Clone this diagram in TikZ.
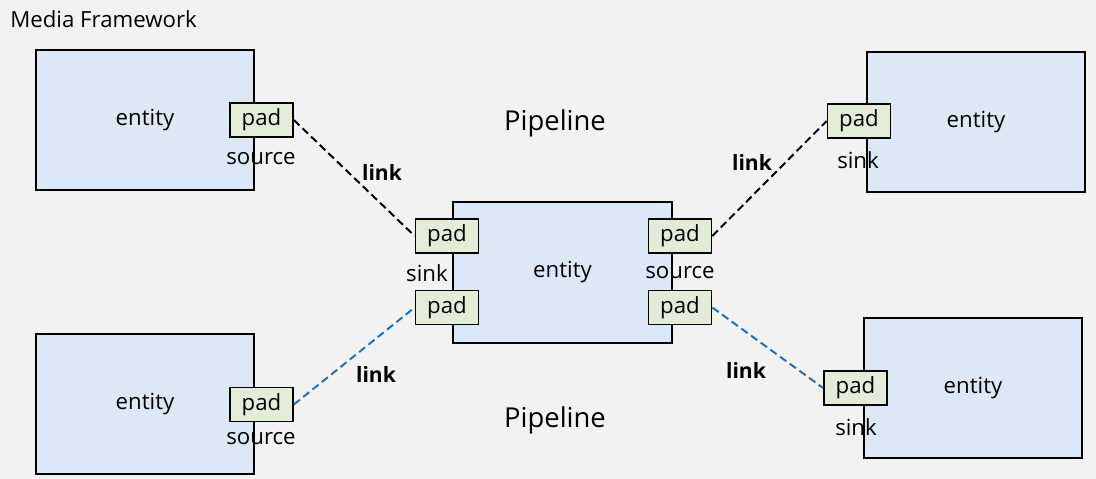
\documentclass[tikz,border=0pt]{standalone}
\usepackage{fontspec}
\setmainfont{Open Sans}
\usetikzlibrary{positioning}

\definecolor{bggray}{RGB}{242,242,242}
\definecolor{entityblue}{RGB}{220,232,246}
\definecolor{padgreen}{RGB}{227,236,214}
\definecolor{linkblue}{RGB}{34,112,176}

\tikzset{
  entitybox/.style={draw=black, line width=1.3pt, fill=entityblue,
    minimum width=5.45cm, minimum height=3.5cm, inner sep=0pt},
  padbox/.style={draw=black, line width=1.2pt, fill=padgreen,
    minimum width=1.575cm, minimum height=0.85cm, inner sep=0pt},
  linkline/.style={line width=1.4pt, dash pattern=on 5.5pt off 3pt},
  linklabel/.style={font=\fontsize{15}{17}\selectfont\bfseries},
}

\begin{document}
\begin{tikzpicture}[x=0.025cm, y=-0.025cm, font=\fontsize{15.8}{18}\selectfont]
  % Background
  \fill[bggray] (0,0) rectangle (1096,479);
  \useasboundingbox (0,0) rectangle (1096,479);
  \node[anchor=base west, inner sep=0pt] (title) at (10,28) {Media Framework};

  % Entities
  \node[entitybox] (srcA) at (145,120) {entity};
  \node[entitybox] (srcB) at (145,404) {entity};
  \node[entitybox, minimum width=5.475cm, minimum height=3.525cm] (mid) at (562.5,272.5) {entity};
  \node[entitybox] (sinkA) at (976,122) {entity};
  \node[entitybox] (sinkB) at (973,388) {entity};

  % Pads
  \node[padbox] (padA) at (261.5,120) {pad};
  \node[padbox] (padB) at (261.5,404.5) {pad};
  \node[padbox] (midin1) at (447,236) {pad};
  \node[padbox] (midin2) at (447,307.5) {pad};
  \node[padbox] (midout1) at (680,236) {pad};
  \node[padbox] (midout2) at (680,307.5) {pad};
  \node[padbox] (padC) at (859,121) {pad};
  \node[padbox] (padD) at (855.5,388) {pad};

  % Pad names
  \node (srcAname) at (261,159) {source};
  \node (srcBname) at (261,439) {source};
  \node (midinname) at (427,273) {sink};
  \node (midoutname) at (680,273) {source};
  \node (padCname) at (858,160) {sink};
  \node (padDname) at (856,427) {sink};

  % Links
  \draw[linkline] (padA.east) -- (midin1.west);
  \draw[linkline] (midout1.east) -- (padC.west);
  \draw[linkline, linkblue] (padB.east) -- (midin2.west);
  \draw[linkline, linkblue] (midout2.east) -- (padD.west);
  \node[linklabel] (linkA) at (382,172) {link};
  \node[linklabel] (linkC) at (752,162) {link};
  \node[linklabel] (linkB) at (376,374) {link};
  \node[linklabel] (linkD) at (746,370) {link};

  % Pipelines
  \node[font=\fontsize{19.5}{22}\selectfont] (pipeA) at (555,123) {Pipeline};
  \node[font=\fontsize{19.5}{22}\selectfont] (pipeB) at (555,420) {Pipeline};
\end{tikzpicture}
\end{document}
